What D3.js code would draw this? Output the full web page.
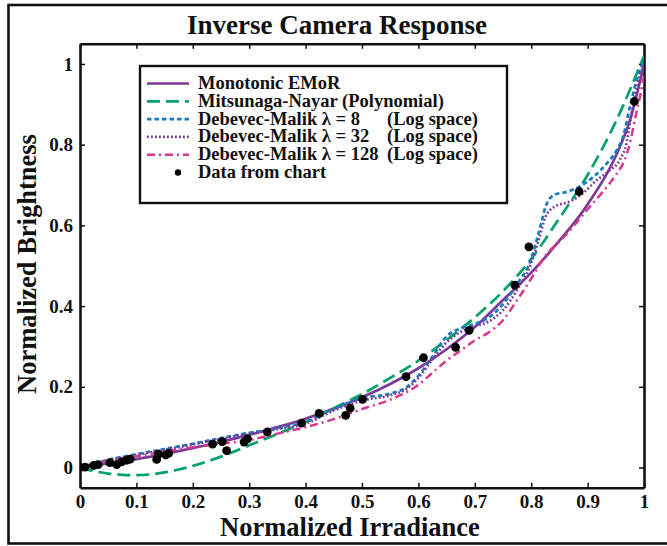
<!DOCTYPE html>
<meta charset="utf-8">
<title>Inverse Camera Response</title>
<style>
  body { margin: 0; background: #fff; }
  text { font-family: "Liberation Serif", "Times New Roman", serif; font-weight: bold; fill: #111; }
</style>
<body>
<svg id="chart" width="667" height="546"></svg>
<script src="https://d3js.org/d3.v7.min.js"></script>
<script>

// ---- data ----
var xTicks = [0, 0.1, 0.2, 0.3, 0.4, 0.5, 0.6, 0.7, 0.8, 0.9, 1];
var yTicks = [0, 0.2, 0.4, 0.6, 0.8, 1];

var emor = [[0,0],[0.05,0.01],[0.1,0.021],[0.15,0.034],[0.2,0.048],[0.25,0.064],[0.3,0.081],[0.35,0.1],
  [0.4,0.121],[0.45,0.146],[0.5,0.174],[0.55,0.207],[0.6,0.246],[0.65,0.293],[0.7,0.348],[0.75,0.415],
  [0.8,0.483],[0.85,0.562],[0.9,0.652],[0.95,0.772],[0.975,0.86],[1,1.0]];

var mitsunaga = [[0,0],[0.025,-0.009],[0.05,-0.015],[0.075,-0.018],[0.1,-0.019],[0.125,-0.017],[0.15,-0.012],
  [0.175,-0.005],[0.2,0.004],[0.25,0.027],[0.3,0.055],[0.35,0.083],[0.4,0.113],[0.45,0.147],[0.5,0.182],
  [0.55,0.222],[0.6,0.265],[0.65,0.316],[0.7,0.372],[0.75,0.437],[0.8,0.517],[0.85,0.618],[0.9,0.725],
  [0.95,0.857],[1,1.02]];

var dm8 = [[0,0],[0.05,0.019],[0.1,0.033],[0.15,0.046],[0.2,0.059],[0.25,0.073],[0.3,0.086],[0.35,0.097],
  [0.4,0.113],[0.45,0.145],[0.5,0.172],[0.55,0.183],[0.58,0.2],[0.6,0.228],[0.625,0.275],[0.65,0.325],
  [0.675,0.345],[0.7,0.356],[0.725,0.372],[0.75,0.405],[0.775,0.455],[0.8,0.517],[0.813,0.58],[0.827,0.652],
  [0.84,0.675],[0.865,0.684],[0.887,0.697],[0.91,0.72],[0.935,0.755],[0.952,0.787],[0.963,0.82],
  [0.975,0.894],[0.987,0.96],[1,1.01]];

var dm32 = [[0,0],[0.05,0.018],[0.1,0.031],[0.15,0.044],[0.2,0.057],[0.25,0.071],[0.3,0.084],[0.35,0.095],
  [0.4,0.109],[0.45,0.141],[0.5,0.166],[0.55,0.179],[0.58,0.196],[0.6,0.222],[0.625,0.268],[0.65,0.31],
  [0.675,0.336],[0.7,0.35],[0.725,0.362],[0.75,0.39],[0.775,0.44],[0.8,0.506],[0.813,0.562],[0.825,0.62],
  [0.84,0.645],[0.87,0.66],[0.892,0.68],[0.916,0.712],[0.94,0.737],[0.957,0.762],[0.969,0.805],
  [0.976,0.862],[0.985,0.928],[1,1.0]];

var dm128 = [[0,0],[0.05,0.016],[0.1,0.028],[0.15,0.04],[0.2,0.05],[0.25,0.059],[0.3,0.068],[0.35,0.084],
  [0.4,0.1],[0.45,0.12],[0.5,0.145],[0.55,0.168],[0.6,0.205],[0.625,0.235],[0.65,0.265],[0.675,0.29],
  [0.7,0.315],[0.725,0.335],[0.75,0.365],[0.775,0.415],[0.8,0.468],[0.825,0.525],[0.85,0.56],[0.875,0.598],
  [0.9,0.64],[0.925,0.68],[0.95,0.725],[0.965,0.76],[0.975,0.803],[0.985,0.87],[0.993,0.92],[1,0.97]];

var chartPoints = [[0,0],[0.009,0.001],[0.024,0.005],[0.032,0.007],[0.053,0.012],[0.065,0.007],[0.074,0.014],
  [0.083,0.018],[0.089,0.021],[0.136,0.02],[0.139,0.033],[0.152,0.031],[0.157,0.035],[0.235,0.058],
  [0.252,0.064],[0.26,0.042],[0.291,0.063],[0.297,0.071],[0.332,0.088],[0.393,0.11],[0.424,0.134],
  [0.471,0.129],[0.479,0.147],[0.501,0.169],[0.578,0.225],[0.609,0.272],[0.666,0.298],[0.69,0.34],
  [0.771,0.452],[0.796,0.547],[0.885,0.684],[0.983,0.907]];

var seriesNames = ["Monotonic EMoR", "Mitsunaga-Nayar (Polynomial)", "Debevec-Malik \u03bb = 8",
  "Debevec-Malik \u03bb = 32", "Debevec-Malik \u03bb = 128"];

// ---- styling ----
var series = [
  { name: seriesNames[0], data: emor,      color: "#7b3a98", dash: null,         width: 2.7 },
  { name: seriesNames[1], data: mitsunaga, color: "#00a26c", dash: "13,6",       width: 2.7 },
  { name: seriesNames[2], data: dm8,       color: "#1a7abf", dash: "4.5,3",      width: 2.7 },
  { name: seriesNames[3], data: dm32,      color: "#7b3a98", dash: "1.8,2.2",    width: 2.7 },
  { name: seriesNames[4], data: dm128,     color: "#d8368e", dash: "8,4,2,4",    width: 2.5 }
];

var svg = d3.select("#chart");

var x = d3.scaleLinear().domain([0, 1]).range([80, 644]);
var y = d3.scaleLinear().domain([-0.05, 1.05]).range([487.7, 43.8]);

// outer figure frame
svg.append("rect")
    .attr("x", 8.5).attr("y", 5).attr("width", 700).attr("height", 538.5)
    .attr("fill", "none").attr("stroke", "#111").attr("stroke-width", 2.6);

svg.append("text")
    .attr("x", 337).attr("y", 34)
    .attr("text-anchor", "middle")
    .style("font-size", "27px")
    .text("Inverse Camera Response");

// axes, ticks pointing inward on all four sides
var fmt = function (d) { return String(+d.toFixed(1)); };

var gx = svg.append("g").attr("transform", "translate(0," + y(-0.05) + ")")
    .call(d3.axisBottom(x).tickValues(xTicks).tickFormat(fmt).tickSize(-5).tickSizeOuter(0).tickPadding(7));
var gxTop = svg.append("g").attr("transform", "translate(0," + y(1.05) + ")")
    .call(d3.axisTop(x).tickValues(xTicks).tickFormat("").tickSize(-5).tickSizeOuter(0));
var gy = svg.append("g").attr("transform", "translate(" + x(0) + ",0)")
    .call(d3.axisLeft(y).tickValues(yTicks).tickFormat(fmt).tickSize(-5).tickSizeOuter(0).tickPadding(7));
var gyRight = svg.append("g").attr("transform", "translate(" + x(1) + ",0)")
    .call(d3.axisRight(y).tickValues(yTicks).tickFormat("").tickSize(-5).tickSizeOuter(0));

[gx, gxTop, gy, gyRight].forEach(function (g) {
  g.select(".domain").attr("stroke", "#111").attr("stroke-width", 2.6);
  g.selectAll(".tick line").attr("stroke", "#111").attr("stroke-width", 1.5);
  g.selectAll(".tick text")
    .attr("fill", "#111")
    .style("font-family", "'Liberation Serif', 'Times New Roman', serif")
    .style("font-weight", "bold")
    .style("font-size", "19px");
});

svg.append("text")
    .attr("x", 350).attr("y", 536)
    .attr("text-anchor", "middle")
    .style("font-size", "26.5px")
    .text("Normalized Irradiance");

svg.append("text")
    .attr("transform", "translate(36,264) rotate(-90)")
    .attr("text-anchor", "middle")
    .style("font-size", "26.5px")
    .text("Normalized Brightness");

// curves
svg.append("clipPath").attr("id", "plot-clip")
  .append("rect").attr("x", x(0)).attr("y", y(1.05)).attr("width", x(1) - x(0)).attr("height", y(-0.05) - y(1.05));

var line = d3.line()
    .x(function (d) { return x(d[0]); })
    .y(function (d) { return y(d[1]); })
    .curve(d3.curveMonotoneX);

var plot = svg.append("g").attr("clip-path", "url(#plot-clip)");

plot.selectAll("path.series")
  .data(series)
  .enter().append("path")
    .attr("class", "series")
    .attr("fill", "none")
    .attr("stroke", function (d) { return d.color; })
    .attr("stroke-width", function (d) { return d.width; })
    .attr("stroke-dasharray", function (d) { return d.dash; })
    .attr("d", function (d) { return line(d.data); });

plot.selectAll("circle.pt")
  .data(chartPoints)
  .enter().append("circle")
    .attr("class", "pt")
    .attr("cx", function (d) { return x(d[0]); })
    .attr("cy", function (d) { return y(d[1]); })
    .attr("r", 4.4)
    .attr("fill", "#000");

// legend
var legend = svg.append("g");
legend.append("rect")
    .attr("x", 140).attr("y", 66).attr("width", 367).attr("height", 137)
    .attr("fill", "#fff").attr("stroke", "#111").attr("stroke-width", 2.4);

var rowY = function (i) { return 89 + i * 17.8; };

series.forEach(function (s, i) {
  legend.append("line")
      .attr("x1", 147).attr("x2", 189)
      .attr("y1", rowY(i) - 5.5).attr("y2", rowY(i) - 5.5)
      .attr("stroke", s.color).attr("stroke-width", s.width)
      .attr("stroke-dasharray", s.dash);
  legend.append("text")
      .attr("x", 198).attr("y", rowY(i))
      .style("font-size", "18.5px")
      .text(s.name);
  if (i >= 2) {
    legend.append("text")
        .attr("x", 387).attr("y", rowY(i))
        .style("font-size", "18.5px")
        .text("(Log space)");
  }
});

legend.append("circle")
    .attr("cx", 178).attr("cy", rowY(5) - 5.5).attr("r", 3.2).attr("fill", "#000");
legend.append("text")
    .attr("x", 198).attr("y", rowY(5))
    .style("font-size", "18.5px")
    .text("Data from chart");

</script>
</body>
